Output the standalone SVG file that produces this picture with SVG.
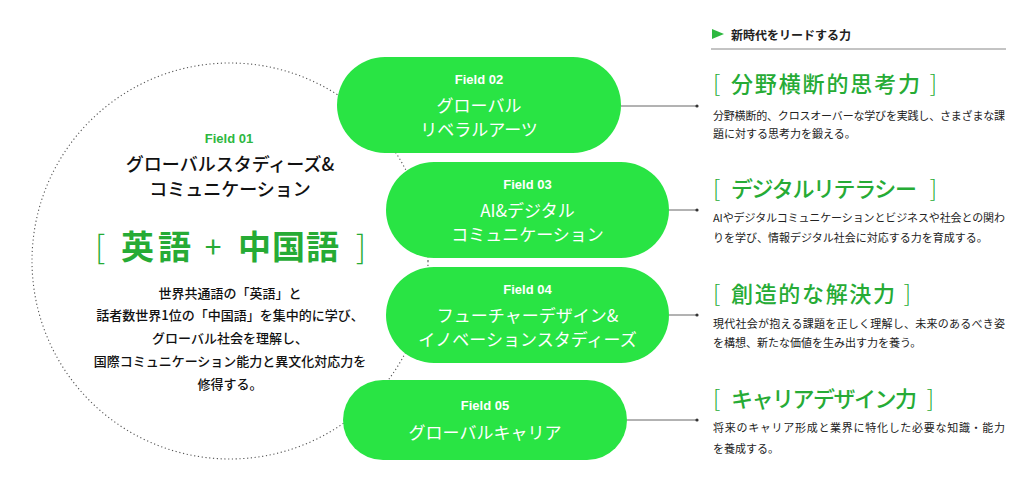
<svg xmlns="http://www.w3.org/2000/svg" width="1036" height="494" viewBox="0 0 1036 494">
<defs>
<style>
.jp{font-family:"Noto Sans CJK JP","Noto Sans",sans-serif;}
.lab{font-family:"Liberation Sans",Arial,sans-serif;font-weight:700;font-size:13px;}
.pill{fill:#29e444;}
.ptxt{fill:#ffffff;font-size:17px;font-weight:400;}
.gt{fill:#26ab35;}
.desc{fill:#222;font-size:11px;}
.conn{stroke:#666;stroke-width:1;fill:none;}
.dot{fill:#333;}
</style>
</defs>
<rect width="1036" height="494" fill="#ffffff"/>

<g id="field01">
<circle cx="230" cy="261" r="198" fill="none" stroke="#555" stroke-width="1.1" stroke-dasharray="1.2 2.6"/>
<text class="lab" x="229" y="138" text-anchor="middle" dominant-baseline="central" fill="#2db83f">Field 01</text>
<text class="jp" font-size="18" font-weight="500" fill="#111" text-anchor="middle" dominant-baseline="central"><tspan x="230" y="163">グローバルスタディーズ&amp;</tspan><tspan x="230" y="188">コミュニケーション</tspan></text>
<text class="jp gt" x="95" y="245" font-size="32" font-weight="300" dominant-baseline="central">[</text>
<text class="jp gt" x="121" y="245" font-size="33" font-weight="700" dominant-baseline="central" textLength="70">英語</text>
<text class="jp gt" x="213" y="245" font-size="30" font-weight="400" text-anchor="middle" dominant-baseline="central">+</text>
<text class="jp gt" x="238" y="245" font-size="33" font-weight="700" dominant-baseline="central" textLength="101">中国語</text>
<text class="jp gt" x="366" y="245" font-size="32" font-weight="300" text-anchor="end" dominant-baseline="central">]</text>
<text class="jp" font-size="13" font-weight="500" fill="#111" text-anchor="middle" dominant-baseline="central"><tspan x="230" y="292">世界共通語の「英語」と</tspan><tspan x="230" y="314">話者数世界1位の「中国語」を集中的に学び、</tspan><tspan x="230" y="337">グローバル社会を理解し、</tspan><tspan x="230" y="360">国際コミュニケーション能力と異文化対応力を</tspan><tspan x="230" y="383">修得する。</tspan></text>
</g>

<g id="connectors">
<line class="conn" x1="621" y1="106" x2="697" y2="106"/>
<circle class="dot" cx="697" cy="106" r="1.6"/>
<line class="conn" x1="669" y1="210" x2="697" y2="210"/>
<circle class="dot" cx="697" cy="210" r="1.6"/>
<line class="conn" x1="669" y1="315" x2="697" y2="315"/>
<circle class="dot" cx="697" cy="315" r="1.6"/>
<line class="conn" x1="627" y1="420" x2="697" y2="420"/>
<circle class="dot" cx="697" cy="420" r="1.6"/>
</g>

<g id="field02">
<rect class="pill" x="337" y="57" width="284" height="96" rx="48"/>
<text class="lab" x="479" y="79" fill="#fff" text-anchor="middle" dominant-baseline="central">Field 02</text>
<text class="jp ptxt" text-anchor="middle" dominant-baseline="central"><tspan x="479" y="104">グローバル</tspan><tspan x="479" y="127.5">リベラルアーツ</tspan></text>
</g>

<g id="field03">
<rect class="pill" x="386" y="162" width="283" height="96" rx="48"/>
<text class="lab" x="527.5" y="184" fill="#fff" text-anchor="middle" dominant-baseline="central">Field 03</text>
<text class="jp ptxt" text-anchor="middle" dominant-baseline="central"><tspan x="527.5" y="209">AI&amp;デジタル</tspan><tspan x="527.5" y="232.5">コミュニケーション</tspan></text>
</g>

<g id="field04">
<rect class="pill" x="386" y="267" width="283" height="96" rx="48"/>
<text class="lab" x="527.5" y="289" fill="#fff" text-anchor="middle" dominant-baseline="central">Field 04</text>
<text class="jp ptxt" text-anchor="middle" dominant-baseline="central"><tspan x="527.5" y="314">フューチャーデザイン&amp;</tspan><tspan x="527.5" y="337.5">イノベーションスタディーズ</tspan></text>
</g>

<g id="field05">
<rect class="pill" x="343" y="380" width="284" height="80" rx="40"/>
<text class="lab" x="485" y="405" fill="#fff" text-anchor="middle" dominant-baseline="central">Field 05</text>
<text class="jp ptxt" x="485" y="431" text-anchor="middle" dominant-baseline="central">グローバルキャリア</text>
</g>

<g id="header">
<polygon points="712,29 724,34 712,39" fill="#2db83f"/>
<text class="jp" x="731" y="34" font-size="12" font-weight="700" fill="#222" dominant-baseline="central">新時代をリードする力</text>
<line x1="711" y1="49" x2="1006" y2="49" stroke="#888" stroke-width="1"/>
</g>

<g id="power1">
<text class="jp gt" x="713" y="82" font-size="23" font-weight="300" dominant-baseline="central">[</text>
<text class="jp gt" x="731" y="82" font-size="22" font-weight="500" dominant-baseline="central" textLength="189">分野横断的思考力</text>
<text class="jp gt" x="937" y="82" font-size="23" font-weight="300" text-anchor="end" dominant-baseline="central">]</text>
<text class="jp desc" dominant-baseline="central"><tspan x="713" y="115" textLength="292">分野横断的、クロスオーバーな学びを実践し、さまざまな課</tspan><tspan x="713" y="133">題に対する思考力を鍛える。</tspan></text>
</g>

<g id="power2">
<text class="jp gt" x="713" y="187" font-size="23" font-weight="300" dominant-baseline="central">[</text>
<text class="jp gt" x="731" y="187" font-size="22" font-weight="500" dominant-baseline="central" textLength="186">デジタルリテラシー</text>
<text class="jp gt" x="937" y="187" font-size="23" font-weight="300" text-anchor="end" dominant-baseline="central">]</text>
<text class="jp desc" dominant-baseline="central"><tspan x="713" y="217" textLength="292">AIやデジタルコミュニケーションとビジネスや社会との関わ</tspan><tspan x="713" y="237">りを学び、情報デジタル社会に対応する力を育成する。</tspan></text>
</g>

<g id="power3">
<text class="jp gt" x="713" y="292" font-size="23" font-weight="300" dominant-baseline="central">[</text>
<text class="jp gt" x="731" y="292" font-size="22" font-weight="500" dominant-baseline="central" textLength="164">創造的な解決力</text>
<text class="jp gt" x="911" y="292" font-size="23" font-weight="300" text-anchor="end" dominant-baseline="central">]</text>
<text class="jp desc" dominant-baseline="central"><tspan x="713" y="323" textLength="292">現代社会が抱える課題を正しく理解し、未来のあるべき姿</tspan><tspan x="713" y="342">を構想、新たな価値を生み出す力を養う。</tspan></text>
</g>

<g id="power4">
<text class="jp gt" x="713" y="397" font-size="23" font-weight="300" dominant-baseline="central">[</text>
<text class="jp gt" x="731" y="397" font-size="22" font-weight="500" dominant-baseline="central" textLength="186">キャリアデザイン力</text>
<text class="jp gt" x="934" y="397" font-size="23" font-weight="300" text-anchor="end" dominant-baseline="central">]</text>
<text class="jp desc" dominant-baseline="central"><tspan x="713" y="427" textLength="292">将来のキャリア形成と業界に特化した必要な知識・能力</tspan><tspan x="713" y="448">を養成する。</tspan></text>
</g>
</svg>
